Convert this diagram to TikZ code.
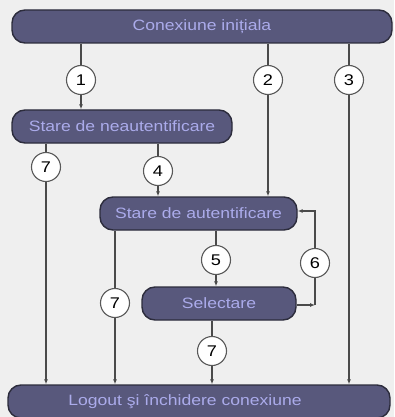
\documentclass[tikz,border=0pt]{standalone}
\usepackage{fontspec}
\setmainfont{Liberation Sans}[FakeStretch=1.17]
\usetikzlibrary{arrows.meta}

\definecolor{fundal}{HTML}{EFEFEF}
\definecolor{cutie}{HTML}{58587C}
\definecolor{contur}{HTML}{2C2C3C}
\definecolor{scris}{HTML}{ABABEB}
\definecolor{linie}{HTML}{4A4A4A}

\tikzset{
  stare/.style={draw=contur, line width=1.4pt, fill=cutie, rounded corners=13pt,
    minimum height=33pt, inner sep=0pt, text=scris, font=\fontsize{15}{17}\selectfont},
  nr/.style={circle, draw=gray!70!black, line width=1.1pt, fill=white, minimum size=29pt,
    inner sep=0pt, font=\fontsize{15.5}{17}\selectfont},
  sageata/.style={draw=linie, line width=1.3pt, -{Latex[length=5pt,width=4pt]}}
}

\begin{document}
\begin{tikzpicture}[x=1pt,y=-1pt]
  \fill[fundal] (0,0) rectangle (394,417);
  \useasboundingbox (0,0) rectangle (394,417);
  \clip (0,0) rectangle (394,417);

  \node (init) at (202,26.5) [stare,minimum width=380pt] {Conexiune inițiala};
  \node (neauth) at (122,126.5) [stare,minimum width=220pt] {Stare de neautentificare};
  \node (auth) at (198.5,213.5) [stare,minimum width=197pt] {Stare de autentificare};
  \node (sel) at (219,303.5) [stare,minimum width=154pt] {Selectare};
  \node (logout) at (199,401.5) [stare,minimum width=382pt] {\hspace*{-28pt}Logout şi închidere conexiune};

  \coordinate (n1) at (81,80);
  \coordinate (n2) at (268,80);
  \coordinate (n3) at (349,80);
  \coordinate (n7a) at (46,167);
  \coordinate (n4) at (158,171);
  \coordinate (n5) at (216,260);
  \coordinate (n6) at (315,263);
  \coordinate (n7b) at (115,303);
  \coordinate (n7c) at (212,351);
  \coordinate (colt) at (315,305);

  \draw[sageata] (init.south -| n1) -- (neauth.north -| n1);
  \draw[sageata] (init.south -| n2) -- (auth.north -| n2);
  \draw[sageata] (init.south -| n3) -- (logout.north -| n3);
  \draw[sageata] (neauth.south -| n7a) -- (logout.north -| n7a);
  \draw[sageata] (neauth.south -| n4) -- (auth.north -| n4);
  \draw[sageata] (auth.south -| n7b) -- (logout.north -| n7b);
  \draw[sageata] (auth.south -| n5) -- (sel.north -| n5);
  \draw[sageata] (sel.south -| n7c) -- (logout.north -| n7c);
  \draw[sageata] (sel.east |- colt) -- (colt);
  \draw[sageata] (colt) |- ([yshift=2.5pt]auth.east);

  \node[nr] at (n1) {1};
  \node[nr] at (n2) {2};
  \node[nr] at (n3) {3};
  \node[nr] at (n4) {4};
  \node[nr] at (n5) {5};
  \node[nr] at (n6) {6};
  \node[nr] at (n7a) {7};
  \node[nr] at (n7b) {7};
  \node[nr] at (n7c) {7};
\end{tikzpicture}
\end{document}
